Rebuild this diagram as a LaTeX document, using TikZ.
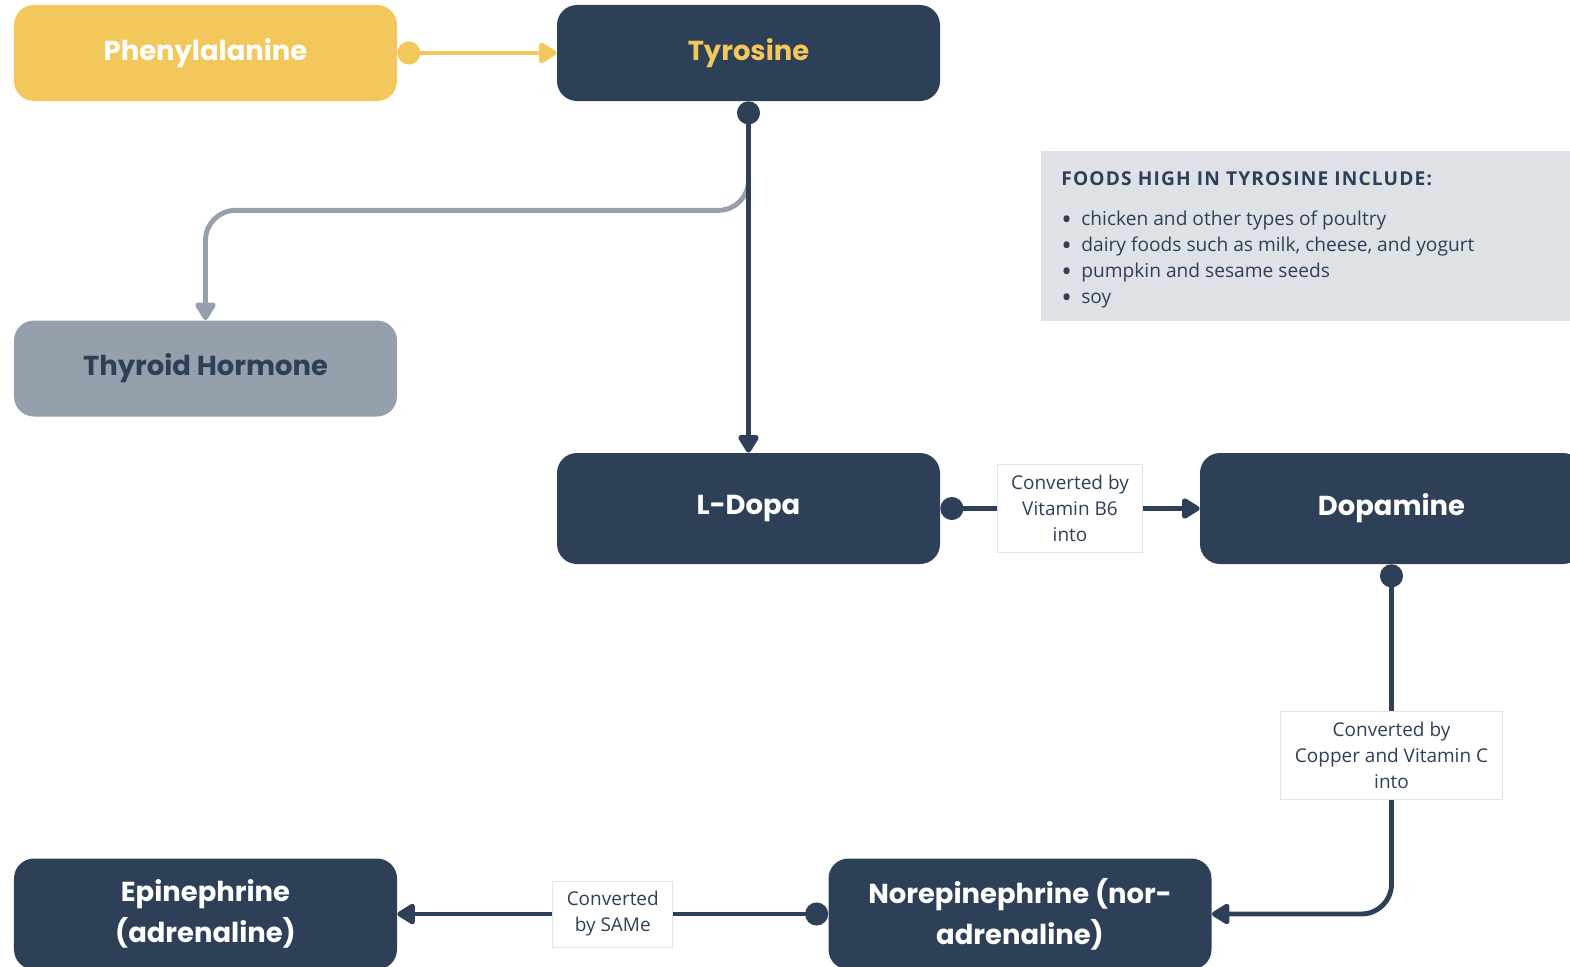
\documentclass[tikz,border=0pt]{standalone}
\usepackage{fontspec}
\setmainfont{Open Sans}
\newfontfamily\headfont{Poppins}
\usetikzlibrary{arrows.meta,positioning}

\definecolor{navy}{HTML}{2E4057}
\definecolor{gold}{HTML}{F2C75C}
\definecolor{slate}{HTML}{96A0AC}
\definecolor{panelgray}{HTML}{DEE2E6}
\definecolor{tagline}{HTML}{E2E5E8}

\newcommand{\fooddot}{\smash{\raisebox{-2.2pt}{\fontsize{16}{0}\selectfont\textbullet}}}

\tikzset{
  box/.style={rectangle, rounded corners=0.4cm, minimum width=7.66cm, minimum height=2.22cm,
    align=center, font=\headfont\bfseries\fontsize{15.6}{23.5}\selectfont},
  topbox/.style={box, minimum height=1.92cm},
  link/.style={line width=2.8pt, navy, {Circle[length=0.46cm]}-{Triangle[length=0.4cm,width=0.46cm,round]}},
  tag/.style={fill=white, draw=tagline, line width=0.5pt, sharp corners, text=navy, align=center,
    inner xsep=8pt, inner ysep=6pt, font=\fontsize{10.8}{14.8}\selectfont}
}

\begin{document}
\begin{tikzpicture}[node distance=2cm, on grid]
  \useasboundingbox (0,0) rectangle (31.4,-19.34);
  \clip (0,0) rectangle (31.4,-19.34);

  % boxes
  \node[topbox, fill=gold, text=white] (phe) at (4.11,-1.06) {Phenylalanine};
  \node[topbox, fill=navy, text=gold] (tyr) [right=10.86cm of phe] {Tyrosine};
  \node[topbox, fill=slate, text=navy] (thy) [below=6.31cm of phe] {Thyroid Hormone};
  \node[box, fill=navy, text=white] (ldopa) [below=9.11cm of tyr] {L-Dopa};
  \node[box, fill=navy, text=white] (dopa) [right=12.86cm of ldopa] {Dopamine};
  \node[box, fill=navy, text=white] (norepi) [below right=8.11cm and 5.43cm of ldopa] {Norepinephrine (nor-\\adrenaline)};
  \node[box, fill=navy, text=white] (epi) [left=16.29cm of norepi] {Epinephrine\\(adrenaline)};

  % foods panel
  \node[anchor=north west, fill=panelgray, text=navy, minimum width=12cm, minimum height=3.2cm,
        inner xsep=0.4cm, inner ysep=0.2cm, align=left, font=\fontsize{10.9}{14.8}\selectfont]
        (foods) at (20.82,-3.02) {%
    \rule{0pt}{14pt}{\bfseries\addfontfeature{LetterSpace=6}FOODS HIGH IN TYROSINE INCLUDE:}\\[11pt]
    \begin{tabular}{@{}p{0.4cm}@{}l@{}}
      \fooddot & chicken and other types of poultry\\
      \fooddot & dairy foods such as milk, cheese, and yogurt\\
      \fooddot & pumpkin and sesame seeds\\
      \fooddot & soy
    \end{tabular}\hspace*{5cm}};

  % connectors
  \draw[slate, line width=2.8pt, rounded corners=0.6cm, -{Triangle[length=0.4cm,width=0.46cm,round]}]
    ([yshift=-1.48cm]tyr.south) -- ([yshift=-2.18cm]tyr.south) -| (thy.north);
  \draw[link, gold] (phe.east) -- (tyr.west);
  \draw[link] (tyr.south) -- (ldopa.north);
  \draw[link] (ldopa.east) -- node[tag] {Converted by\\Vitamin B6\\into} (dopa.west);
  \draw[link, rounded corners=0.6cm] (dopa.south) |- node[tag, pos=0.273] {Converted by\\Copper and Vitamin C\\into} (norepi.east);
  \draw[link] (norepi.west) -- node[tag] {Converted\\by SAMe} (epi.east);

\end{tikzpicture}
\end{document}
